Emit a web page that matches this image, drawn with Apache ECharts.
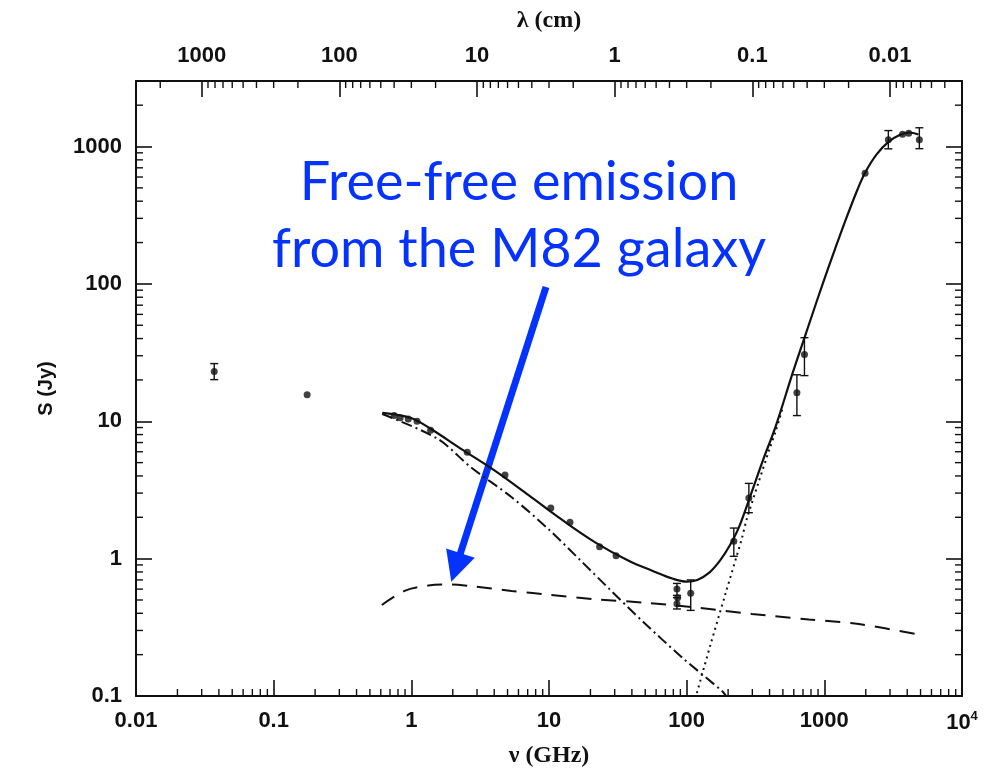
<!DOCTYPE html>
<html>
<head>
<meta charset="utf-8">
<script src="https://cdn.jsdelivr.net/npm/echarts@6/dist/echarts.min.js"></script>
<style>
  html, body { margin: 0; padding: 0; background: #ffffff; }
  #chart { width: 993px; height: 775px; }
</style>
</head>
<body>
<div id="chart"></div>
<script>
// ---- M82 radio-to-far-infrared spectrum -------------------------------

// Total model (solid line): frequency in GHz, flux density in Jy
const totalFreq = [0.615, 0.984, 1.38, 2.28, 3.99, 7.07, 12.4, 21.5, 38.2, 56.2, 78.7, 100, 119.6, 146, 175, 206, 239, 295, 358, 442, 589, 714, 813, 955, 1197, 1409, 1739, 1977, 2405, 2937, 3524, 4157, 4830];
const totalFlux = [11.5, 10.6, 8.82, 6.33, 4.41, 2.91, 1.92, 1.32, 0.96, 0.817, 0.716, 0.68, 0.70, 0.79, 0.97, 1.25, 1.68, 3.0, 5.2, 9.1, 22.5, 40, 58.9, 94.8, 180, 282, 485, 645, 880, 1085, 1215, 1265, 1225];

// Synchrotron component (dash-dot line)
const syncFreq = [0.615, 1.55, 2.71, 5.33, 9.97, 16.6, 27.5, 48.2, 94.8, 180, 192];
const syncFlux = [11.3, 7.47, 4.62, 2.81, 1.63, 0.99, 0.60, 0.347, 0.187, 0.109, 0.101];

// Free-free component (dashed line)
const ffFreq = [0.61, 0.894, 1.33, 1.96, 2.73, 5.34, 9.92, 21.4, 49.4, 114, 297, 772, 1783, 4864];
const ffFlux = [0.46, 0.583, 0.637, 0.649, 0.63, 0.582, 0.547, 0.507, 0.478, 0.442, 0.396, 0.361, 0.334, 0.28];

// Thermal dust component (dotted line)
const dustFreq = [118.6, 148, 192, 252, 272, 330, 400, 442, 500];
const dustFlux = [0.105, 0.231, 0.561, 1.41, 1.91, 3.5, 6.3, 8.4, 12.7];

// Measured flux densities
const obsFreq = [0.037, 0.175, 0.75, 0.83, 0.95, 1.1, 1.38, 2.55, 4.79, 10.3, 14.2, 23.3, 30.7, 85, 86, 85, 107, 220, 283, 632, 717, 1977, 2917, 3700, 4100, 4900];
const obsFlux = [23.0, 15.6, 11.0, 10.6, 10.4, 10.0, 8.6, 5.96, 4.06, 2.34, 1.84, 1.22, 1.05, 0.60, 0.52, 0.47, 0.56, 1.34, 2.76, 16.1, 30.6, 638, 1120, 1230, 1250, 1120];

// Error bars on the measurements: frequency, lower and upper flux
const barFreq = [0.037, 85, 85, 107, 220, 283, 632, 717, 2917, 4900];
const barLow  = [20.1, 0.54, 0.43, 0.42, 1.04, 2.16, 11.0, 21.5, 962, 965];
const barHigh = [26.3, 0.66, 0.52, 0.70, 1.67, 3.53, 21.8, 40.6, 1307, 1370];

// Decade tick labels
const freqDecades = [-2, -1, 0, 1, 2, 3, 4];
const freqLabels  = ['0.01', '0.1', '1', '10', '100', '1000', '10{sup|4}'];
const waveDecades = [-2, -1, 0, 1, 2, 3];
const waveLabels  = ['0.01', '0.1', '1', '10', '100', '1000'];
const fluxDecades = [-1, 0, 1, 2, 3];
const fluxLabels  = ['0.1', '1', '10', '100', '1000'];

// Axis ranges (wavelength axis is lambda[cm] = 30 / nu[GHz])
const freqMin = 0.01, freqMax = 10000;
const waveMax = 3000, waveMin = 0.003;
const fluxMin = 0.1, fluxMax = 3000;

const zip = (a, b) => a.map((v, i) => [v, b[i]]);

function decadeFormatter(decades, labels) {
  return function (v) {
    const e = Math.log10(v);
    const r = Math.round(e);
    if (Math.abs(e - r) > 1e-6) return '';
    const i = decades.indexOf(r);
    return i < 0 ? '' : labels[i];
  };
}

// Intermediate log ticks (2..9 x 10^d) inside a range
function minorTicks(lo, hi) {
  const out = [];
  for (let d = Math.floor(Math.log10(lo)); d <= Math.ceil(Math.log10(hi)); d++) {
    for (let m = 2; m <= 9; m++) {
      const v = m * Math.pow(10, d);
      if (v > lo * 1.0001 && v < hi * 0.9999) out.push(v);
    }
  }
  return out;
}

const INK = '#111111';
const TICK_FONT = { fontFamily: 'Liberation Sans', fontWeight: 'bold', fontSize: 22, color: INK };
const MINOR_LEN = 7;

const majorTick = { show: true, inside: true, length: 16, lineStyle: { color: INK, width: 1.6 } };
const axisLine = { show: true, lineStyle: { color: INK, width: 2 } };

function tickLine(x1, y1, x2, y2) {
  return { type: 'line', shape: { x1, y1, x2, y2 }, style: { stroke: INK, lineWidth: 1.4 } };
}

const chart = echarts.init(document.getElementById('chart'), null, { renderer: 'canvas' });

const option = {
  backgroundColor: '#ffffff',
  animation: false,
  grid: { left: 136, right: 31, top: 81, bottom: 79, show: false },
  xAxis: [
    {
      type: 'log', logBase: 10, min: freqMin, max: freqMax, position: 'bottom',
      name: 'ν (GHz)', nameLocation: 'middle', nameGap: 48,
      nameTextStyle: { fontFamily: 'Liberation Serif', fontWeight: 'bold', fontSize: 24, color: INK },
      axisLine, axisTick: majorTick, splitLine: { show: false }, minorTick: { show: false },
      axisLabel: {
        margin: 14, ...TICK_FONT, formatter: decadeFormatter(freqDecades, freqLabels),
        showMinLabel: true, showMaxLabel: true,
        rich: { sup: { fontFamily: 'Liberation Sans', fontWeight: 'bold', fontSize: 13, color: INK, verticalAlign: 'top', padding: [0, 0, 12, 0] } }
      }
    },
    {
      type: 'log', logBase: 10, min: waveMin, max: waveMax, position: 'top', inverse: true,
      name: 'λ (cm)', nameLocation: 'middle', nameGap: 48,
      nameTextStyle: { fontFamily: 'Liberation Serif', fontWeight: 'bold', fontSize: 24, color: INK },
      axisLine, axisTick: majorTick, splitLine: { show: false }, minorTick: { show: false },
      axisLabel: { margin: 14, ...TICK_FONT, formatter: decadeFormatter(waveDecades, waveLabels) }
    }
  ],
  yAxis: [
    {
      type: 'log', logBase: 10, min: fluxMin, max: fluxMax, position: 'left',
      name: 'S (Jy)', nameLocation: 'middle', nameGap: 80, nameRotate: 90,
      nameTextStyle: { fontFamily: 'Liberation Sans', fontWeight: 'bold', fontSize: 20, color: INK },
      axisLine, axisTick: majorTick, splitLine: { show: false }, minorTick: { show: false },
      axisLabel: { margin: 14, ...TICK_FONT, formatter: decadeFormatter(fluxDecades, fluxLabels) }
    },
    {
      type: 'log', logBase: 10, min: fluxMin, max: fluxMax, position: 'right',
      axisLine, axisTick: majorTick, splitLine: { show: false }, minorTick: { show: false },
      axisLabel: { show: false }
    }
  ],
  series: [
    // minor ticks on the frequency axis
    {
      type: 'custom', xAxisIndex: 0, yAxisIndex: 0, silent: true, clip: false, z: 1,
      data: minorTicks(freqMin, freqMax).map(v => [v, fluxMin]),
      renderItem: (params, api) => {
        const p = api.coord([api.value(0), fluxMin]);
        return tickLine(p[0], p[1], p[0], p[1] - MINOR_LEN);
      }
    },
    // minor ticks on the wavelength axis
    {
      type: 'custom', xAxisIndex: 1, yAxisIndex: 0, silent: true, clip: false, z: 1,
      data: minorTicks(waveMin, waveMax).map(v => [v, fluxMax]),
      renderItem: (params, api) => {
        const p = api.coord([api.value(0), fluxMax]);
        return tickLine(p[0], p[1], p[0], p[1] + MINOR_LEN);
      }
    },
    // minor ticks on both flux axes
    {
      type: 'custom', xAxisIndex: 0, yAxisIndex: 0, silent: true, clip: false, z: 1,
      data: minorTicks(fluxMin, fluxMax).map(v => [freqMin, v]),
      renderItem: (params, api) => {
        const l = api.coord([freqMin, api.value(1)]);
        const r = api.coord([freqMax, api.value(1)]);
        return { type: 'group', children: [
          tickLine(l[0], l[1], l[0] + MINOR_LEN, l[1]),
          tickLine(r[0], r[1], r[0] - MINOR_LEN, r[1])
        ] };
      }
    },
    {
      name: 'free-free', type: 'line', data: zip(ffFreq, ffFlux), smooth: 0.3,
      showSymbol: false, silent: true, z: 3,
      lineStyle: { color: INK, width: 2, type: [15, 10] }
    },
    {
      name: 'synchrotron', type: 'line', data: zip(syncFreq, syncFlux), smooth: 0.3,
      showSymbol: false, silent: true, z: 3,
      lineStyle: { color: INK, width: 2, type: [11, 4, 2, 4] }
    },
    {
      name: 'dust', type: 'line', data: zip(dustFreq, dustFlux), smooth: 0.3,
      showSymbol: false, silent: true, z: 3,
      lineStyle: { color: INK, width: 2, type: [2, 4] }
    },
    {
      name: 'total', type: 'line', data: zip(totalFreq, totalFlux), smooth: 0.35,
      showSymbol: false, silent: true, z: 4,
      lineStyle: { color: INK, width: 2.2 }
    },
    {
      name: 'error bars', type: 'custom', silent: true, z: 5,
      data: barFreq.map((f, i) => [f, barLow[i], barHigh[i]]),
      renderItem: (params, api) => {
        const lo = api.coord([api.value(0), api.value(1)]);
        const hi = api.coord([api.value(0), api.value(2)]);
        const w = 4;
        return { type: 'group', children: [
          tickLine(lo[0], lo[1], hi[0], hi[1]),
          tickLine(lo[0] - w, lo[1], lo[0] + w, lo[1]),
          tickLine(hi[0] - w, hi[1], hi[0] + w, hi[1])
        ] };
      }
    },
    {
      name: 'measurements', type: 'scatter', data: zip(obsFreq, obsFlux),
      symbol: 'circle', symbolSize: 7, silent: true, z: 6,
      itemStyle: { color: INK }
    }
  ]
};

chart.setOption(option);

// ---- blue annotation pointing at the free-free curve ----
const BLUE = '#0433ff';
const arrowTarget = [1.95, 0.68];
const tip = chart.convertToPixel({ xAxisIndex: 0, yAxisIndex: 0 }, arrowTarget);
const tail = [546, 287];
const dx = tip[0] - tail[0], dy = tip[1] - tail[1];
const len = Math.hypot(dx, dy);
const ux = dx / len, uy = dy / len;
const headLen = 30, headHalf = 15;
const base = [tip[0] - ux * headLen, tip[1] - uy * headLen];

chart.setOption({
  graphic: [
    {
      type: 'text', x: 519, y: 183, silent: true,
      style: { text: 'Free-free emission', fill: BLUE, fontFamily: 'Lato', fontSize: 54, align: 'center', verticalAlign: 'middle' }
    },
    {
      type: 'text', x: 519, y: 250, silent: true,
      style: { text: 'from the M82 galaxy', fill: BLUE, fontFamily: 'Lato', fontSize: 54, align: 'center', verticalAlign: 'middle' }
    },
    {
      type: 'line', silent: true,
      shape: { x1: tail[0], y1: tail[1], x2: base[0] + ux * 2, y2: base[1] + uy * 2 },
      style: { stroke: BLUE, lineWidth: 7 }
    },
    {
      type: 'polygon', silent: true,
      shape: { points: [
        [tip[0], tip[1]],
        [base[0] - uy * headHalf, base[1] + ux * headHalf],
        [base[0] + uy * headHalf, base[1] - ux * headHalf]
      ] },
      style: { fill: BLUE }
    }
  ]
});
</script>
</body>
</html>
